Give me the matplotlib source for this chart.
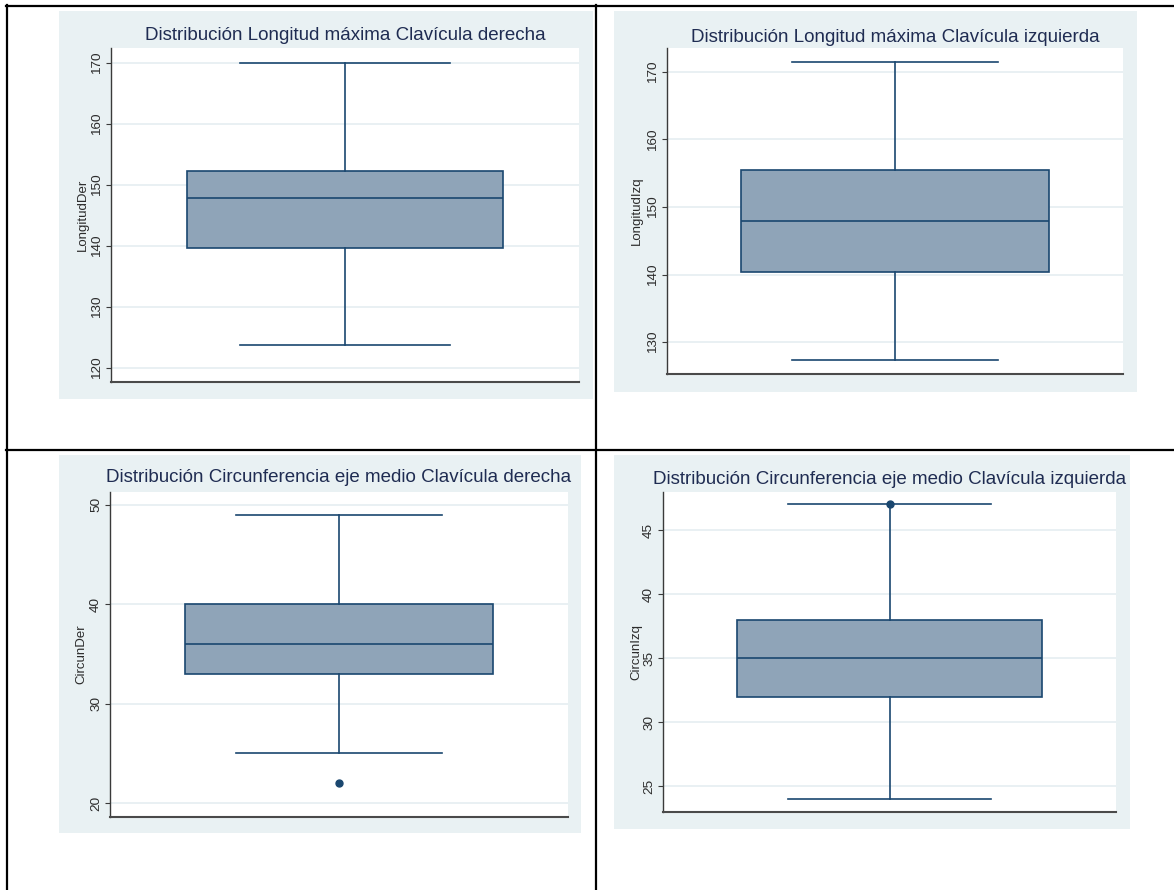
import matplotlib
matplotlib.use("Agg")
import matplotlib.pyplot as plt
from matplotlib.patches import Rectangle
from matplotlib.lines import Line2D

plt.rcParams['font.family'] = ['Liberation Sans', 'DejaVu Sans']

# ---- data -------------------------------------------------------------
titles = [
    "Distribución Longitud máxima Clavícula derecha",
    "Distribución Longitud máxima Clavícula izquierda",
    "Distribución Circunferencia eje medio Clavícula derecha",
    "Distribución Circunferencia eje medio Clavícula izquierda",
]
variables = ["LongitudDer", "LongitudIzq", "CircunDer", "CircunIzq"]
q1_values = [139.7, 140.4, 33.0, 32.0]
median_values = [147.8, 147.9, 36.0, 35.0]
q3_values = [152.2, 155.4, 40.0, 38.0]
lower_adjacent = [123.7, 127.3, 25.0, 24.0]
upper_adjacent = [170.0, 171.5, 49.0, 47.0]
outside_values = [[], [], [22.0], [47.0]]
y_ticks = [
    [120, 130, 140, 150, 160, 170],
    [130, 140, 150, 160, 170],
    [20, 30, 40, 50],
    [25, 30, 35, 40, 45],
]
y_ranges = [(117.7, 172.4), (125.3, 173.5), (18.6, 51.3), (23.0, 47.96)]

# ---- layout (pixels) --------------------------------------------------
W, H = 1174, 890
graph_regions = [(59, 11, 593, 399), (614, 11, 1137, 392),
                 (59, 455, 581, 833), (614, 455, 1130, 829)]
plot_regions = [(111, 48, 579, 382), (667, 48, 1123, 374),
                (110, 492, 568, 817), (663, 492, 1116, 812)]
title_y = [36, 37, 478, 479]
ylabel_x = [83, 637, 81, 636]

BG = "#e9f1f3"
GRID = "#e7eff2"
FILL = "#8fa4b8"
NAVY = "#1a476f"
TITLE = "#1f2c52"
TEXT = "#2b2b2b"


def fx(x):
    return x / W


def fy(y):
    return 1 - y / H


fig = plt.figure(figsize=(W / 100, H / 100), dpi=100)
fig.patch.set_facecolor("white")

for i in range(4):
    gx0, gy0, gx1, gy1 = graph_regions[i]
    fig.add_artist(Rectangle((fx(gx0), fy(gy1)), fx(gx1) - fx(gx0), fy(gy0) - fy(gy1),
                             transform=fig.transFigure, facecolor=BG,
                             edgecolor="none", zorder=0))

    px0, py0, px1, py1 = plot_regions[i]
    ax = fig.add_axes([fx(px0), fy(py1), fx(px1) - fx(px0), fy(py0) - fy(py1)])
    ax.set_facecolor("white")

    stats = [dict(med=median_values[i], q1=q1_values[i], q3=q3_values[i],
                  whislo=lower_adjacent[i], whishi=upper_adjacent[i],
                  fliers=outside_values[i])]
    ax.bxp(stats, positions=[0.5], widths=[0.674], capwidths=[0.45],
           patch_artist=True, manage_ticks=False,
           boxprops=dict(facecolor=FILL, edgecolor=NAVY, linewidth=1.2),
           medianprops=dict(color=NAVY, linewidth=1.2),
           whiskerprops=dict(color=NAVY, linewidth=1.2),
           capprops=dict(color=NAVY, linewidth=1.2),
           flierprops=dict(marker="o", markerfacecolor=NAVY,
                           markeredgecolor=NAVY, markersize=5))

    ax.set_xlim(0, 1)
    ax.set_ylim(*y_ranges[i])
    ax.set_xticks([])
    ax.set_yticks(y_ticks[i])
    ax.yaxis.grid(True, color=GRID, linewidth=1.3)
    ax.set_axisbelow(True)

    for side in ("top", "right"):
        ax.spines[side].set_visible(False)
    ax.spines["left"].set_color("#3a3a3a")
    ax.spines["left"].set_linewidth(1.0)
    ax.spines["bottom"].set_color("#4a4a4a")
    ax.spines["bottom"].set_linewidth(1.5)

    ax.tick_params(axis="y", length=3.6, width=0.8, color="#3a3a3a",
                   pad=2, labelsize=9.7, labelcolor=TEXT)
    for lab in ax.get_yticklabels():
        lab.set_rotation(90)
        lab.set_va("center")

    fig.text(fx((px0 + px1) / 2), fy(title_y[i]), titles[i], ha="center",
             va="center", fontsize=13.5, color=TITLE)
    fig.text(fx(ylabel_x[i]), fy((py0 + py1) / 2), variables[i], rotation=90,
             ha="center", va="center", fontsize=9.5, color=TEXT)

# table rules around the four graphs
rules = [((6, 1174), (6, 6)), ((6.5, 6.5), (5, 890)),
         ((596, 596), (5, 890)), ((6, 1174), (450, 450))]
for xs, ys in rules:
    fig.add_artist(Line2D([fx(x) for x in xs], [fy(y) for y in ys],
                          transform=fig.transFigure, color="black",
                          linewidth=1.6, zorder=5))

fig.savefig("out.png", dpi=100, facecolor="white")
